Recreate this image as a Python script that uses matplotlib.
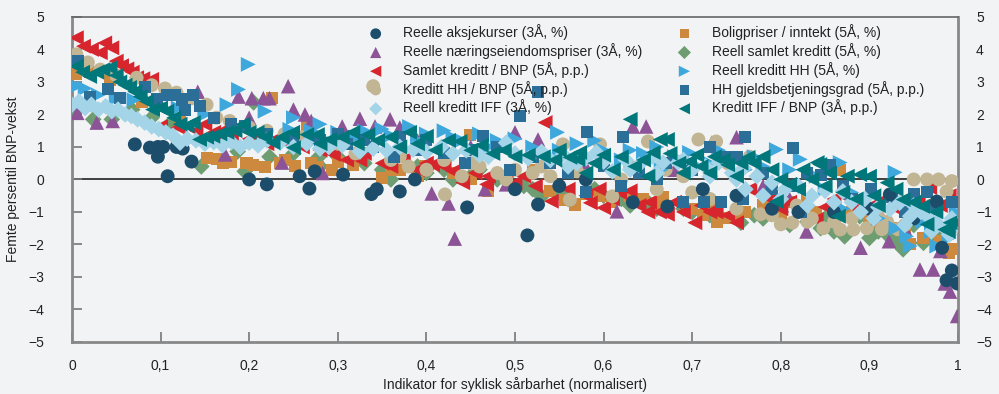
import matplotlib
matplotlib.use("Agg")
import matplotlib.pyplot as plt
from matplotlib.ticker import FixedLocator, FixedFormatter

plt.rcParams['font.family'] = ['Liberation Sans', 'DejaVu Sans']

# ---------------- data (indicator value, 5th percentile GDP growth) ----------------
aks_pts = [(0.071,1.08),(0.088,0.98),(0.097,1.0),(0.103,1.0),(0.097,0.7),(0.108,0.1),(0.118,1.0),
           (0.125,0.95),(0.135,0.55),(0.2,0.0),(0.22,-0.15),(0.257,0.1),(0.268,-0.28),(0.274,0.25),
           (0.306,0.15),(0.338,-0.45),(0.344,-0.3),(0.37,-0.37),(0.387,0.0),(0.446,-0.86),(0.5,-0.3),
           (0.514,-1.72),(0.526,-0.77),(0.55,-0.2),(0.58,0.0),(0.633,-0.7),(0.672,-0.83),(0.712,-0.3),
           (0.75,-0.5),(0.79,-0.9),(0.82,-1.0),(0.86,-1.0),(0.9,-0.9),(0.923,-0.46),(0.95,-1.2),
           (0.976,-0.68),(0.982,-2.1),(0.987,-3.1),(0.993,-2.8),(0.999,-3.2)]

naering_pts = [(0.006,2.05),(0.028,1.75),(0.046,1.8),(0.173,0.77),(0.142,2.7),(0.188,2.55),(0.2,1.9),
               (0.203,2.5),(0.216,2.5),(0.223,2.5),(0.237,0.52),(0.244,2.87),(0.25,2.15),(0.263,2.0),
               (0.27,1.8),(0.283,0.2),(0.305,1.63),(0.325,1.87),(0.342,1.63),(0.359,1.85),(0.37,1.6),
               (0.39,1.2),(0.406,-0.43),(0.425,-0.74),(0.432,-1.82),(0.45,1.0),(0.466,-0.3),(0.49,-0.15),
               (0.5,1.45),(0.526,1.23),(0.55,0.9),(0.58,0.4),(0.615,-0.98),(0.633,1.63),(0.648,1.63),
               (0.68,0.3),(0.722,1.13),(0.75,1.3),(0.78,-0.2),(0.81,-0.6),(0.829,-1.6),(0.86,-1.1),
               (0.89,-2.1),(0.922,-1.9),(0.94,-1.5),(0.957,-2.77),(0.972,-2.77),(0.98,-2.2),(0.985,-3.2),
               (0.991,-3.45),(0.999,-4.2)]

samlet_bnp_pts = [(0.005,4.36),(0.013,4.1),(0.022,4.0),(0.032,3.9),(0.037,4.2),(0.045,4.05),(0.05,3.64),
                  (0.056,3.5),(0.062,3.4),(0.068,3.3),(0.073,3.13),(0.08,3.1),(0.09,3.08),(0.1,1.63),
                  (0.12,1.6),(0.14,1.5),(0.15,1.7),(0.16,1.45),(0.17,1.5),(0.18,1.4),(0.19,1.6),(0.2,1.25),
                  (0.21,1.3),(0.22,1.1),(0.23,1.25),(0.24,1.15),(0.25,1.2),(0.26,1.0),(0.28,0.9),(0.295,0.77),
                  (0.31,0.6),(0.325,0.6),(0.33,0.8),(0.35,0.5),(0.36,0.4),(0.374,0.6),(0.39,0.3),(0.4,0.5),
                  (0.407,0.45),(0.42,0.4),(0.43,0.25),(0.441,-0.1),(0.455,0.2),(0.468,-0.15),(0.47,0.1),
                  (0.49,-0.05),(0.5,-0.1),(0.51,0.1),(0.523,-0.2),(0.534,1.75),(0.541,-0.67),(0.56,-0.3),
                  (0.58,-0.5),(0.585,-0.72),(0.595,-0.3),(0.6,-0.87),(0.61,-0.6),(0.618,-0.4),(0.63,-0.35),
                  (0.64,-0.8),(0.65,-1.0),(0.652,-0.7),(0.663,-1.0),(0.672,-1.07),(0.68,-0.7),(0.69,-1.0),
                  (0.703,-1.33),(0.71,-0.8),(0.72,-1.0),(0.727,-1.0),(0.74,-1.1),(0.75,-1.33),(0.765,-0.3),
                  (0.78,-1.0),(0.788,-0.6),(0.8,-0.9),(0.81,-0.7),(0.82,-1.0),(0.84,-1.23),(0.85,-0.85),
                  (0.86,-0.6),(0.87,-0.5),(0.886,-0.9),(0.9,-1.0),(0.91,-0.7),(0.93,-0.9),(0.94,-0.6),
                  (0.955,-0.7),(0.968,-0.25),(0.98,-0.8),(0.99,-0.5)]

hh_bnp_pts = [(0.005,3.85),(0.018,3.6),(0.032,3.38),(0.05,3.2),(0.073,3.13),(0.09,2.9),(0.105,2.8),
              (0.118,2.67),(0.135,2.5),(0.152,2.3),(0.163,1.9),(0.178,1.8),(0.2,1.6),(0.22,1.5),(0.24,1.4),
              (0.26,1.3),(0.28,1.2),(0.3,1.1),(0.32,0.8),(0.34,2.87),(0.36,0.6),(0.37,0.7),(0.38,0.4),
              (0.4,0.3),(0.42,0.6),(0.421,-0.46),(0.44,0.1),(0.45,0.5),(0.46,0.4),(0.48,0.2),(0.49,0.0),
              (0.5,0.3),(0.52,0.2),(0.53,0.4),(0.54,0.1),(0.554,1.08),(0.562,-0.62),(0.57,0.25),(0.58,0.1),
              (0.596,1.08),(0.61,-0.52),(0.62,0.0),(0.63,0.4),(0.65,1.17),(0.66,-0.3),(0.67,0.3),
              (0.69,0.1),(0.7,-0.4),(0.707,1.23),(0.72,-0.6),(0.727,1.17),(0.74,0.5),(0.75,-0.9),
              (0.765,0.7),(0.777,-1.07),(0.79,-1.1),(0.8,-1.38),(0.813,-1.33),(0.818,-0.8),(0.83,-1.3),
              (0.835,-1.2),(0.848,-1.5),(0.86,-1.3),(0.867,-1.54),(0.88,-1.2),(0.882,-1.54),(0.897,-1.5),
              (0.91,-1.14),(0.914,-1.53),(0.92,-1.3),(0.932,-1.53),(0.94,-1.4),(0.95,0.0),(0.96,-1.2),
              (0.965,0.0),(0.97,-0.8),(0.978,0.0),(0.987,-0.37),(0.993,-0.05)]

iff_pts = [(0.0,2.3),(0.008,2.4),(0.015,2.2),(0.022,2.3),(0.03,2.15),(0.038,2.25),(0.045,2.1),(0.052,2.15),
           (0.06,2.0),(0.067,1.95),(0.074,1.85),(0.082,1.75),(0.09,1.63),(0.098,1.55),(0.106,1.45),
           (0.114,1.35),(0.122,1.13),(0.13,1.25),(0.14,1.2),(0.15,1.1),(0.16,1.15),(0.17,1.05),(0.18,1.15),
           (0.19,1.0),(0.2,1.13),(0.21,1.05),(0.22,1.2),(0.235,1.13),(0.25,1.0),(0.265,1.1),(0.28,0.95),
           (0.29,1.0),(0.305,1.05),(0.325,0.86),(0.34,0.95),(0.355,0.9),(0.37,1.0),(0.385,0.92),(0.4,0.85),
           (0.417,1.0),(0.43,0.8),(0.445,0.9),(0.46,0.75),(0.47,0.7),(0.49,1.13),(0.5,0.8),(0.515,0.65),
           (0.53,0.85),(0.54,0.6),(0.554,0.77),(0.56,0.4),(0.57,0.5),(0.58,0.65),(0.592,0.83),(0.6,0.55),
           (0.61,0.25),(0.625,0.6),(0.63,0.3),(0.64,0.45),(0.655,0.7),(0.66,0.2),(0.667,0.52),(0.684,0.52),
           (0.69,0.6),(0.7,0.3),(0.715,0.4),(0.72,0.1),(0.73,0.52),(0.745,0.2),(0.75,0.0),(0.758,0.35),
           (0.76,-0.3),(0.773,0.1),(0.78,-0.5),(0.79,-0.1),(0.8,-0.6),(0.805,-0.3),(0.82,-0.2),(0.83,-0.8),
           (0.835,-0.5),(0.85,-0.35),(0.86,-0.7),(0.87,-0.37),(0.88,-0.7),(0.89,-1.0),(0.895,-0.6),
           (0.905,-1.2),(0.91,-0.85),(0.923,-0.92),(0.934,-0.72),(0.94,-1.4),(0.946,-1.13),(0.95,-0.8),
           (0.958,-1.0),(0.968,-1.2),(0.97,-1.6),(0.976,-1.33),(0.985,-1.5),(0.99,-1.7),(0.993,-1.2),
           (1.0,-1.4)]

bolig_pts = [(0.005,3.23),(0.02,3.3),(0.043,3.07),(0.079,2.37),(0.122,1.8),(0.152,0.65),(0.164,0.62),
             (0.17,0.52),(0.18,0.55),(0.197,0.52),(0.204,0.46),(0.218,0.37),(0.226,2.52),(0.235,0.52),
             (0.24,0.6),(0.252,0.4),(0.265,1.63),(0.27,0.5),(0.278,0.37),(0.293,0.3),(0.3,0.55),
             (0.317,0.46),(0.33,0.8),(0.35,0.06),(0.36,0.3),(0.37,0.3),(0.39,0.1),(0.4,0.4),(0.42,0.5),
             (0.43,0.2),(0.449,1.38),(0.45,0.0),(0.47,-0.35),(0.49,0.1),(0.5,-0.2),(0.52,0.3),(0.54,-0.35),
             (0.556,-0.62),(0.568,-0.77),(0.58,-0.45),(0.596,-0.52),(0.61,-0.7),(0.62,-0.3),(0.63,-0.5),
             (0.645,-0.6),(0.66,-0.8),(0.667,-0.55),(0.69,-0.7),(0.7,-0.9),(0.712,-1.08),(0.72,-0.8),
             (0.728,-1.3),(0.74,-1.2),(0.752,-1.07),(0.76,-1.0),(0.78,-0.8),(0.8,-1.1),(0.81,-0.7),
             (0.83,-0.6),(0.84,-1.0),(0.86,-0.9),(0.867,0.28),(0.88,-1.0),(0.9,-1.2),(0.91,-1.3),
             (0.93,-1.5),(0.94,-1.6),(0.946,-2.0),(0.96,-1.8),(0.97,-1.6),(0.98,-1.9),(0.99,-2.25),
             (0.995,-2.15)]

samlet_pts = [(0.005,2.1),(0.024,1.85),(0.045,1.85),(0.068,2.15),(0.09,1.9),(0.11,1.7),(0.146,0.4),
              (0.16,1.3),(0.187,0.86),(0.195,0.25),(0.205,2.37),(0.223,0.7),(0.25,0.8),(0.278,0.68),
              (0.28,0.4),(0.3,0.7),(0.33,0.5),(0.35,0.3),(0.36,0.0),(0.39,0.4),(0.4,0.2),(0.42,0.3),
              (0.43,0.0),(0.45,0.1),(0.46,0.3),(0.48,0.0),(0.51,-0.2),(0.52,-0.3),(0.53,-0.52),(0.55,-0.4),
              (0.56,-0.6),(0.59,-0.3),(0.6,-0.5),(0.62,-0.6),(0.63,-0.8),(0.65,-0.7),(0.66,-0.9),
              (0.667,-0.7),(0.69,-0.9),(0.7,-1.0),(0.72,-1.1),(0.73,-1.2),(0.755,-1.33),(0.77,-1.1),
              (0.78,-1.2),(0.8,-1.0),(0.81,-1.4),(0.83,-1.3),(0.845,-1.5),(0.85,-1.2),(0.86,-1.6),
              (0.872,-1.75),(0.889,-1.13),(0.9,-1.8),(0.91,-1.6),(0.92,-1.7),(0.93,-1.9),(0.938,-2.15),
              (0.95,-1.4),(0.961,-1.95),(0.97,-1.7),(0.98,-1.5),(0.99,-1.6),(0.995,-1.3)]

hh_pts = [(0.005,2.87),(0.015,2.8),(0.03,2.6),(0.05,2.5),(0.07,2.45),(0.1,2.3),(0.12,2.2),(0.15,2.0),
          (0.175,2.3),(0.188,2.77),(0.199,3.54),(0.218,2.1),(0.246,1.54),(0.25,1.9),(0.27,1.5),(0.28,1.7),
          (0.3,1.45),(0.32,1.3),(0.33,1.5),(0.35,1.55),(0.36,1.35),(0.381,1.63),(0.39,1.2),(0.4,1.4),
          (0.42,1.5),(0.43,1.3),(0.44,1.2),(0.46,1.4),(0.47,1.0),(0.48,1.2),(0.5,1.25),(0.52,1.0),
          (0.548,1.45),(0.55,0.9),(0.57,1.1),(0.59,1.2),(0.6,0.9),(0.62,0.6),(0.63,0.9),(0.645,0.8),
          (0.66,1.0),(0.665,0.3),(0.68,0.7),(0.697,0.83),(0.7,0.5),(0.72,0.5),(0.73,0.9),(0.74,0.6),
          (0.76,0.3),(0.77,0.7),(0.78,0.4),(0.795,0.92),(0.81,0.3),(0.822,0.62),(0.84,0.1),(0.85,-0.3),
          (0.867,0.52),(0.87,-0.9),(0.88,-0.4),(0.9,-0.8),(0.91,-1.2),(0.929,0.22),(0.93,-1.5),
          (0.942,-1.75),(0.946,-2.05),(0.96,-1.3),(0.97,-1.6),(0.976,-2.05),(0.99,-1.8),(0.998,-1.0)]

gjeld_pts = [(0.007,3.63),(0.02,2.55),(0.041,2.77),(0.054,2.52),(0.082,2.83),(0.096,2.46),(0.107,2.6),
             (0.116,2.6),(0.124,2.46),(0.128,2.15),(0.137,2.6),(0.144,2.25),(0.16,1.9),(0.18,1.7),
             (0.195,1.63),(0.22,1.4),(0.25,1.3),(0.28,1.2),(0.3,1.4),(0.31,1.1),(0.33,1.2),(0.34,1.0),
             (0.364,0.68),(0.37,1.3),(0.39,0.9),(0.4,1.2),(0.42,0.8),(0.444,0.5),(0.45,0.9),(0.464,1.33),
             (0.48,1.0),(0.494,0.3),(0.506,1.95),(0.52,0.7),(0.526,2.7),(0.54,0.5),(0.56,0.2),(0.58,-0.4),
             (0.581,1.45),(0.6,0.4),(0.62,-0.2),(0.622,1.3),(0.64,0.2),(0.66,0.0),(0.67,0.5),(0.69,-0.7),
             (0.7,0.3),(0.713,-0.7),(0.72,1.0),(0.732,-0.7),(0.739,0.68),(0.75,0.68),(0.757,-0.6),
             (0.76,1.3),(0.78,0.2),(0.79,-0.3),(0.81,-0.2),(0.814,0.98),(0.823,-1.0),(0.83,0.2),
             (0.845,0.15),(0.856,0.46),(0.87,-0.2),(0.88,-0.6),(0.902,-0.3),(0.925,-0.55),(0.94,-1.0),
             (0.95,-0.46),(0.965,-0.4),(0.97,-0.9),(0.993,-0.7)]

iff_bnp_pts = [(0.005,3.48),(0.012,3.3),(0.02,3.17),(0.028,3.3),(0.035,3.38),(0.043,3.44),(0.05,3.2),
               (0.054,3.0),(0.06,2.9),(0.065,2.83),(0.071,2.7),(0.077,2.55),(0.084,2.4),(0.091,2.15),
               (0.1,2.2),(0.107,2.1),(0.115,1.9),(0.122,1.7),(0.13,1.65),(0.137,1.75),(0.144,1.23),
               (0.152,1.3),(0.159,1.33),(0.167,1.4),(0.175,1.45),(0.184,1.5),(0.193,1.7),(0.2,1.45),
               (0.209,1.45),(0.218,1.3),(0.227,1.13),(0.237,1.3),(0.249,1.45),(0.25,0.98),(0.265,1.38),
               (0.277,1.38),(0.28,1.1),(0.291,1.23),(0.305,1.3),(0.317,1.45),(0.322,1.1),(0.334,1.38),
               (0.345,1.2),(0.36,1.3),(0.37,1.0),(0.381,1.45),(0.39,1.1),(0.4,1.33),(0.41,0.9),(0.425,1.2),
               (0.438,1.17),(0.45,0.9),(0.462,1.05),(0.475,0.8),(0.488,0.9),(0.5,0.7),(0.515,0.75),
               (0.532,0.7),(0.545,0.6),(0.55,0.9),(0.562,0.68),(0.571,0.62),(0.573,0.83),(0.58,0.2),
               (0.59,0.5),(0.6,0.75),(0.611,0.3),(0.62,0.7),(0.63,1.85),(0.635,0.4),(0.645,0.6),(0.65,0.1),
               (0.656,0.83),(0.664,1.23),(0.672,1.23),(0.675,0.8),(0.685,0.5),(0.69,0.2),(0.697,0.55),
               (0.705,0.75),(0.71,0.4),(0.72,0.2),(0.725,0.7),(0.735,0.6),(0.74,0.45),(0.75,0.1),
               (0.755,0.5),(0.763,0.68),(0.77,0.5),(0.78,0.7),(0.79,0.3),(0.795,-0.68),(0.8,0.0),
               (0.81,-0.15),(0.82,-0.3),(0.825,0.3),(0.835,0.0),(0.841,0.52),(0.844,0.46),(0.85,-0.2),
               (0.855,0.2),(0.865,-1.13),(0.87,-0.4),(0.875,0.1),(0.885,-0.6),(0.889,0.15),(0.9,0.1),
               (0.905,-0.5),(0.91,-0.8),(0.92,-0.1),(0.93,-0.3),(0.938,-0.62),(0.95,-0.7),(0.96,-0.83),
               (0.965,-1.38),(0.975,-1.0),(0.985,-1.54),(0.989,-1.6),(0.991,-1.33),(0.999,-1.33)]

series_labels = ["Reelle aksjekurser (3Å, %)", "Reelle næringseiendomspriser (3Å, %)",
                 "Samlet kreditt / BNP (5Å, p.p.)", "Kreditt HH / BNP (5Å, p.p.)",
                 "Reell kreditt IFF (3Å, %)", "Boligpriser / inntekt (5Å, %)",
                 "Reell samlet kreditt (5Å, %)", "Reell kreditt HH (5Å, %)",
                 "HH gjeldsbetjeningsgrad (5Å, p.p.)", "Kreditt IFF / BNP (3Å, p.p.)"]
series_data = [aks_pts, naering_pts, samlet_bnp_pts, hh_bnp_pts, iff_pts,
               bolig_pts, samlet_pts, hh_pts, gjeld_pts, iff_bnp_pts]

x_ticks = [0, 0.1, 0.2, 0.3, 0.4, 0.5, 0.6, 0.7, 0.8, 0.9, 1]
x_tick_labels = ["0", "0,1", "0,2", "0,3", "0,4", "0,5", "0,6", "0,7", "0,8", "0,9", "1"]
y_ticks = [5, 4, 3, 2, 1, 0, -1, -2, -3, -4, -5]
y_tick_labels = ["5", "4", "3", "2", "1", "0", "\u22121", "\u22122", "\u22123", "\u22124", "\u22125"]

# ---------------- styles ----------------
colors = ['#1c4e6c', '#8c5496', '#d7252e', '#c2b593', '#a3d4e8',
          '#cd8a3f', '#6f9d72', '#3ea8dc', '#2b6e98', '#00787b']
markers = ['o', '^', '<', 'o', 'D', 's', 'D', '>', 's', '<']
sizes = [100, 110, 115, 100, 72, 75, 72, 115, 75, 115]
legend_sizes = [60, 65, 65, 60, 45, 45, 45, 65, 45, 65]
zorders = [3.35, 3.1, 3.2, 3.25, 3.4, 3.05, 3.0, 3.27, 3.3, 3.5]

bg = '#f2f3f5'
fig = plt.figure(figsize=(9.99, 3.94), dpi=100, facecolor=bg)
ax = fig.add_axes([0.072, 0.132, 0.887, 0.825], facecolor=bg)

ax.axhline(0, color='#222222', lw=1.2, zorder=1)

handles = []
for pts, lab, c, m, s, z in zip(series_data, series_labels, colors, markers, sizes, zorders):
    xs = [p[0] for p in pts]
    ys = [p[1] for p in pts]
    h = ax.scatter(xs, ys, s=s, marker=m, color=c, edgecolors='none', label=lab, zorder=z)
    handles.append(h)

ax.set_xlim(0, 1)
ax.set_ylim(-5, 5)
ax.xaxis.set_major_locator(FixedLocator(x_ticks))
ax.xaxis.set_major_formatter(FixedFormatter(x_tick_labels))
ax.yaxis.set_major_locator(FixedLocator(y_ticks))
ax.yaxis.set_major_formatter(FixedFormatter(y_tick_labels))

ax.tick_params(axis='x', direction='in', length=7, width=1.2, color='#777777',
               labelsize=10, labelcolor='#222222', pad=12)
ax.tick_params(axis='y', direction='in', length=7, width=1.2, color='#777777',
               labelsize=10, labelcolor='#222222', right=True, labelright=False, pad=20)

# right-hand tick labels on a twin axis so they can use their own padding
ax2 = ax.twinx()
ax2.set_ylim(-5, 5)
ax2.yaxis.set_major_locator(FixedLocator(y_ticks))
ax2.yaxis.set_major_formatter(FixedFormatter(y_tick_labels))
ax2.tick_params(axis='y', direction='in', length=0, labelsize=10, labelcolor='#222222', pad=13)
for side in ax2.spines:
    ax2.spines[side].set_visible(False)

for side in ['left', 'right', 'bottom']:
    ax.spines[side].set_color('#888888')
    ax.spines[side].set_linewidth(2)
ax.spines['top'].set_color('#666666')
ax.spines['top'].set_linewidth(1.2)

ax.set_ylabel("Femte persentil BNP-vekst", fontsize=10, color='#222222', labelpad=6)
ax.set_xlabel("Indikator for syklisk sårbarhet (normalisert)", fontsize=10, color='#222222', labelpad=3)

leg = ax2.legend(handles=handles, ncol=2, loc='upper left', bbox_to_anchor=(0.324, 1.007),
                 frameon=False, fontsize=10, handlelength=1.0, handletextpad=1.5,
                 labelspacing=0.2, columnspacing=2.5, borderaxespad=0.3)
for t in leg.get_texts():
    t.set_color('#222222')
for lh, ls in zip(leg.legend_handles, legend_sizes):
    lh.set_sizes([ls])

fig.savefig("out.png", dpi=100, facecolor=bg)
